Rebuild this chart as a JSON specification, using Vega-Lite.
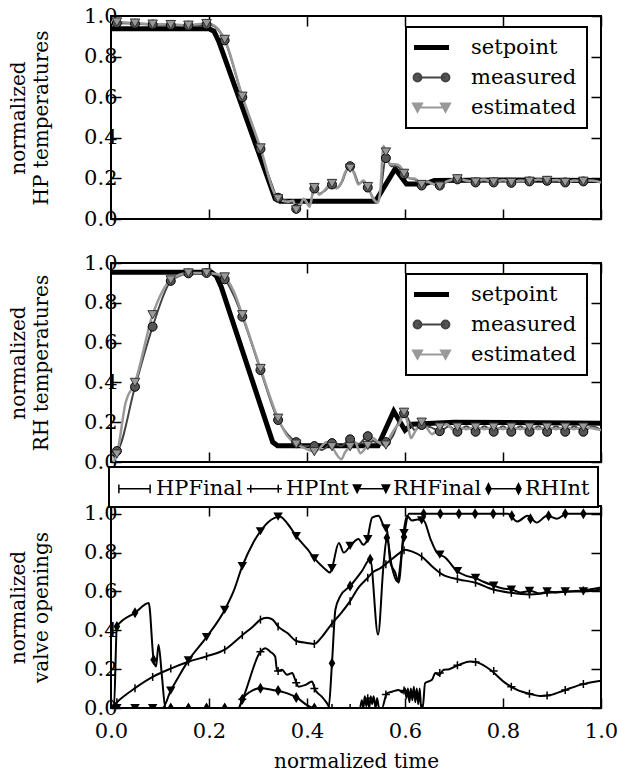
{
"$schema": "https://vega.github.io/schema/vega-lite/v6.json",
"padding": {"left": 7, "top": 4, "right": 5, "bottom": 0},
"bounds": "flush",
"spacing": 44,
"config": {
  "font": "DejaVu Serif",
  "view": {"stroke": "#000000", "strokeWidth": 2},
  "axis": {"domain": false, "grid": false, "tickColor": "#000000", "tickWidth": 1.5, "tickSize": -10, "labelFont": "DejaVu Serif", "labelFontSize": 21, "labelColor": "#000000", "labelFlush": false, "labelPadding": 4, "titleFont": "DejaVu Serif", "titleFontSize": 20, "titleFontWeight": "normal", "titleColor": "#000000", "titleLineHeight": 23},
  "legend": {"labelFont": "DejaVu Serif", "labelFontSize": 21, "labelColor": "#000000"}
},
"resolve": {"scale": {"color": "independent"}, "legend": {"color": "independent"}},
"datasets": {
  "hpL": [
    {"t":0,"v":0.937,"s":"setpoint"},{"t":0.2,"v":0.937,"s":"setpoint"},{"t":0.21,"v":0.925,"s":"setpoint"},{"t":0.22,"v":0.875,"s":"setpoint"},{"t":0.335,"v":0.1,"s":"setpoint"},{"t":0.345,"v":0.088,"s":"setpoint"},{"t":0.54,"v":0.088,"s":"setpoint"},{"t":0.58,"v":0.248,"s":"setpoint"},{"t":0.603,"v":0.172,"s":"setpoint"},{"t":0.64,"v":0.172,"s":"setpoint"},{"t":0.66,"v":0.19,"s":"setpoint"},{"t":0.8,"v":0.192,"s":"setpoint"},{"t":1.0,"v":0.19,"s":"setpoint"},
    {"t":0,"v":0.965,"s":"measured"},{"t":0.049,"v":0.962,"s":"measured"},{"t":0.085,"v":0.958,"s":"measured"},{"t":0.122,"v":0.955,"s":"measured"},{"t":0.158,"v":0.952,"s":"measured"},{"t":0.195,"v":0.958,"s":"measured"},{"t":0.205,"v":0.955,"s":"measured"},{"t":0.232,"v":0.88,"s":"measured"},{"t":0.268,"v":0.6,"s":"measured"},{"t":0.305,"v":0.345,"s":"measured"},{"t":0.335,"v":0.12,"s":"measured"},{"t":0.341,"v":0.105,"s":"measured"},{"t":0.36,"v":0.09,"s":"measured"},{"t":0.372,"v":0.085,"s":"measured"},{"t":0.378,"v":0.05,"s":"measured"},{"t":0.386,"v":0.065,"s":"measured"},{"t":0.393,"v":0.095,"s":"measured"},{"t":0.405,"v":0.065,"s":"measured"},{"t":0.415,"v":0.15,"s":"measured"},{"t":0.425,"v":0.125,"s":"measured"},{"t":0.437,"v":0.14,"s":"measured"},{"t":0.451,"v":0.17,"s":"measured"},{"t":0.462,"v":0.155,"s":"measured"},{"t":0.472,"v":0.185,"s":"measured"},{"t":0.48,"v":0.235,"s":"measured"},{"t":0.488,"v":0.26,"s":"measured"},{"t":0.497,"v":0.225,"s":"measured"},{"t":0.506,"v":0.175,"s":"measured"},{"t":0.515,"v":0.185,"s":"measured"},{"t":0.524,"v":0.155,"s":"measured"},{"t":0.535,"v":0.105,"s":"measured"},{"t":0.545,"v":0.085,"s":"measured"},{"t":0.551,"v":0.15,"s":"measured"},{"t":0.561,"v":0.3,"s":"measured"},{"t":0.572,"v":0.26,"s":"measured"},{"t":0.582,"v":0.26,"s":"measured"},{"t":0.59,"v":0.25,"s":"measured"},{"t":0.598,"v":0.22,"s":"measured"},{"t":0.61,"v":0.2,"s":"measured"},{"t":0.62,"v":0.195,"s":"measured"},{"t":0.634,"v":0.165,"s":"measured"},{"t":0.646,"v":0.18,"s":"measured"},{"t":0.658,"v":0.172,"s":"measured"},{"t":0.671,"v":0.165,"s":"measured"},{"t":0.688,"v":0.185,"s":"measured"},{"t":0.707,"v":0.195,"s":"measured"},{"t":0.726,"v":0.188,"s":"measured"},{"t":0.744,"v":0.18,"s":"measured"},{"t":0.762,"v":0.19,"s":"measured"},{"t":0.781,"v":0.18,"s":"measured"},{"t":0.8,"v":0.19,"s":"measured"},{"t":0.817,"v":0.178,"s":"measured"},{"t":0.836,"v":0.188,"s":"measured"},{"t":0.854,"v":0.185,"s":"measured"},{"t":0.872,"v":0.192,"s":"measured"},{"t":0.89,"v":0.188,"s":"measured"},{"t":0.908,"v":0.19,"s":"measured"},{"t":0.927,"v":0.18,"s":"measured"},{"t":0.946,"v":0.19,"s":"measured"},{"t":0.964,"v":0.185,"s":"measured"},{"t":0.982,"v":0.19,"s":"measured"},{"t":1.0,"v":0.18,"s":"measured"},
    {"t":0,"v":0.97,"s":"estimated"},{"t":0.012,"v":0.97,"s":"estimated"},{"t":0.049,"v":0.965,"s":"estimated"},{"t":0.085,"v":0.96,"s":"estimated"},{"t":0.122,"v":0.958,"s":"estimated"},{"t":0.158,"v":0.955,"s":"estimated"},{"t":0.195,"v":0.963,"s":"estimated"},{"t":0.205,"v":0.96,"s":"estimated"},{"t":0.232,"v":0.885,"s":"estimated"},{"t":0.268,"v":0.605,"s":"estimated"},{"t":0.305,"v":0.35,"s":"estimated"},{"t":0.335,"v":0.12,"s":"estimated"},{"t":0.341,"v":0.1,"s":"estimated"},{"t":0.36,"v":0.085,"s":"estimated"},{"t":0.372,"v":0.09,"s":"estimated"},{"t":0.378,"v":0.045,"s":"estimated"},{"t":0.385,"v":0.06,"s":"estimated"},{"t":0.393,"v":0.1,"s":"estimated"},{"t":0.4,"v":0.08,"s":"estimated"},{"t":0.405,"v":0.06,"s":"estimated"},{"t":0.415,"v":0.155,"s":"estimated"},{"t":0.425,"v":0.12,"s":"estimated"},{"t":0.435,"v":0.14,"s":"estimated"},{"t":0.451,"v":0.175,"s":"estimated"},{"t":0.46,"v":0.15,"s":"estimated"},{"t":0.47,"v":0.18,"s":"estimated"},{"t":0.48,"v":0.24,"s":"estimated"},{"t":0.488,"v":0.25,"s":"estimated"},{"t":0.495,"v":0.23,"s":"estimated"},{"t":0.505,"v":0.17,"s":"estimated"},{"t":0.515,"v":0.19,"s":"estimated"},{"t":0.524,"v":0.16,"s":"estimated"},{"t":0.535,"v":0.1,"s":"estimated"},{"t":0.545,"v":0.08,"s":"estimated"},{"t":0.55,"v":0.15,"s":"estimated"},{"t":0.556,"v":0.36,"s":"estimated"},{"t":0.561,"v":0.33,"s":"estimated"},{"t":0.57,"v":0.27,"s":"estimated"},{"t":0.58,"v":0.27,"s":"estimated"},{"t":0.59,"v":0.26,"s":"estimated"},{"t":0.598,"v":0.225,"s":"estimated"},{"t":0.61,"v":0.2,"s":"estimated"},{"t":0.62,"v":0.2,"s":"estimated"},{"t":0.634,"v":0.17,"s":"estimated"},{"t":0.645,"v":0.185,"s":"estimated"},{"t":0.655,"v":0.175,"s":"estimated"},{"t":0.671,"v":0.162,"s":"estimated"},{"t":0.685,"v":0.185,"s":"estimated"},{"t":0.707,"v":0.198,"s":"estimated"},{"t":0.725,"v":0.19,"s":"estimated"},{"t":0.744,"v":0.182,"s":"estimated"},{"t":0.76,"v":0.195,"s":"estimated"},{"t":0.781,"v":0.182,"s":"estimated"},{"t":0.8,"v":0.192,"s":"estimated"},{"t":0.817,"v":0.18,"s":"estimated"},{"t":0.835,"v":0.19,"s":"estimated"},{"t":0.854,"v":0.186,"s":"estimated"},{"t":0.872,"v":0.195,"s":"estimated"},{"t":0.89,"v":0.19,"s":"estimated"},{"t":0.91,"v":0.192,"s":"estimated"},{"t":0.927,"v":0.18,"s":"estimated"},{"t":0.945,"v":0.19,"s":"estimated"},{"t":0.964,"v":0.186,"s":"estimated"},{"t":0.98,"v":0.19,"s":"estimated"},{"t":1.0,"v":0.18,"s":"estimated"}
  ],
  "hpM": [
    {"t":0.012,"v":0.965,"s":"measured"},{"t":0.049,"v":0.962,"s":"measured"},{"t":0.085,"v":0.958,"s":"measured"},{"t":0.122,"v":0.955,"s":"measured"},{"t":0.158,"v":0.952,"s":"measured"},{"t":0.195,"v":0.958,"s":"measured"},{"t":0.232,"v":0.88,"s":"measured"},{"t":0.268,"v":0.6,"s":"measured"},{"t":0.305,"v":0.345,"s":"measured"},{"t":0.341,"v":0.105,"s":"measured"},{"t":0.378,"v":0.05,"s":"measured"},{"t":0.415,"v":0.15,"s":"measured"},{"t":0.451,"v":0.17,"s":"measured"},{"t":0.488,"v":0.26,"s":"measured"},{"t":0.524,"v":0.155,"s":"measured"},{"t":0.561,"v":0.3,"s":"measured"},{"t":0.598,"v":0.22,"s":"measured"},{"t":0.634,"v":0.165,"s":"measured"},{"t":0.671,"v":0.165,"s":"measured"},{"t":0.707,"v":0.195,"s":"measured"},{"t":0.744,"v":0.18,"s":"measured"},{"t":0.781,"v":0.18,"s":"measured"},{"t":0.817,"v":0.178,"s":"measured"},{"t":0.854,"v":0.185,"s":"measured"},{"t":0.89,"v":0.188,"s":"measured"},{"t":0.927,"v":0.18,"s":"measured"},{"t":0.964,"v":0.185,"s":"measured"},
    {"t":0.012,"v":0.97,"s":"estimated"},{"t":0.049,"v":0.965,"s":"estimated"},{"t":0.085,"v":0.96,"s":"estimated"},{"t":0.122,"v":0.958,"s":"estimated"},{"t":0.158,"v":0.955,"s":"estimated"},{"t":0.195,"v":0.963,"s":"estimated"},{"t":0.232,"v":0.885,"s":"estimated"},{"t":0.268,"v":0.605,"s":"estimated"},{"t":0.305,"v":0.35,"s":"estimated"},{"t":0.341,"v":0.1,"s":"estimated"},{"t":0.378,"v":0.045,"s":"estimated"},{"t":0.415,"v":0.155,"s":"estimated"},{"t":0.451,"v":0.175,"s":"estimated"},{"t":0.488,"v":0.25,"s":"estimated"},{"t":0.524,"v":0.16,"s":"estimated"},{"t":0.561,"v":0.33,"s":"estimated"},{"t":0.598,"v":0.225,"s":"estimated"},{"t":0.634,"v":0.17,"s":"estimated"},{"t":0.671,"v":0.162,"s":"estimated"},{"t":0.707,"v":0.198,"s":"estimated"},{"t":0.744,"v":0.182,"s":"estimated"},{"t":0.781,"v":0.182,"s":"estimated"},{"t":0.817,"v":0.18,"s":"estimated"},{"t":0.854,"v":0.186,"s":"estimated"},{"t":0.89,"v":0.19,"s":"estimated"},{"t":0.927,"v":0.18,"s":"estimated"},{"t":0.964,"v":0.186,"s":"estimated"}
  ],
  "rhL": [
    {"t":0,"v":0.953,"s":"setpoint"},{"t":0.205,"v":0.953,"s":"setpoint"},{"t":0.215,"v":0.935,"s":"setpoint"},{"t":0.225,"v":0.88,"s":"setpoint"},{"t":0.33,"v":0.1,"s":"setpoint"},{"t":0.34,"v":0.082,"s":"setpoint"},{"t":0.545,"v":0.082,"s":"setpoint"},{"t":0.577,"v":0.255,"s":"setpoint"},{"t":0.6,"v":0.16,"s":"setpoint"},{"t":0.615,"v":0.19,"s":"setpoint"},{"t":0.7,"v":0.2,"s":"setpoint"},{"t":1.0,"v":0.195,"s":"setpoint"},
    {"t":0.005,"v":0.05,"s":"measured"},{"t":0.012,"v":0.055,"s":"measured"},{"t":0.049,"v":0.378,"s":"measured"},{"t":0.085,"v":0.68,"s":"measured"},{"t":0.122,"v":0.91,"s":"measured"},{"t":0.14,"v":0.935,"s":"measured"},{"t":0.158,"v":0.948,"s":"measured"},{"t":0.195,"v":0.95,"s":"measured"},{"t":0.21,"v":0.945,"s":"measured"},{"t":0.232,"v":0.918,"s":"measured"},{"t":0.25,"v":0.84,"s":"measured"},{"t":0.268,"v":0.73,"s":"measured"},{"t":0.305,"v":0.462,"s":"measured"},{"t":0.341,"v":0.211,"s":"measured"},{"t":0.36,"v":0.14,"s":"measured"},{"t":0.378,"v":0.1,"s":"measured"},{"t":0.395,"v":0.08,"s":"measured"},{"t":0.415,"v":0.08,"s":"measured"},{"t":0.43,"v":0.06,"s":"measured"},{"t":0.451,"v":0.095,"s":"measured"},{"t":0.47,"v":0.08,"s":"measured"},{"t":0.488,"v":0.114,"s":"measured"},{"t":0.505,"v":0.09,"s":"measured"},{"t":0.524,"v":0.13,"s":"measured"},{"t":0.54,"v":0.1,"s":"measured"},{"t":0.561,"v":0.1,"s":"measured"},{"t":0.575,"v":0.13,"s":"measured"},{"t":0.585,"v":0.19,"s":"measured"},{"t":0.598,"v":0.245,"s":"measured"},{"t":0.61,"v":0.2,"s":"measured"},{"t":0.62,"v":0.16,"s":"measured"},{"t":0.634,"v":0.186,"s":"measured"},{"t":0.652,"v":0.175,"s":"measured"},{"t":0.671,"v":0.155,"s":"measured"},{"t":0.69,"v":0.18,"s":"measured"},{"t":0.707,"v":0.152,"s":"measured"},{"t":0.725,"v":0.18,"s":"measured"},{"t":0.744,"v":0.152,"s":"measured"},{"t":0.762,"v":0.18,"s":"measured"},{"t":0.781,"v":0.152,"s":"measured"},{"t":0.8,"v":0.18,"s":"measured"},{"t":0.817,"v":0.152,"s":"measured"},{"t":0.835,"v":0.18,"s":"measured"},{"t":0.854,"v":0.152,"s":"measured"},{"t":0.872,"v":0.18,"s":"measured"},{"t":0.89,"v":0.152,"s":"measured"},{"t":0.908,"v":0.18,"s":"measured"},{"t":0.927,"v":0.152,"s":"measured"},{"t":0.945,"v":0.18,"s":"measured"},{"t":0.964,"v":0.152,"s":"measured"},{"t":0.982,"v":0.18,"s":"measured"},{"t":1.0,"v":0.16,"s":"measured"},
    {"t":0.005,"v":0.0,"s":"estimated"},{"t":0.012,"v":0.04,"s":"estimated"},{"t":0.03,"v":0.3,"s":"estimated"},{"t":0.049,"v":0.4,"s":"estimated"},{"t":0.085,"v":0.74,"s":"estimated"},{"t":0.122,"v":0.915,"s":"estimated"},{"t":0.158,"v":0.95,"s":"estimated"},{"t":0.195,"v":0.95,"s":"estimated"},{"t":0.215,"v":0.945,"s":"estimated"},{"t":0.232,"v":0.93,"s":"estimated"},{"t":0.25,"v":0.86,"s":"estimated"},{"t":0.268,"v":0.74,"s":"estimated"},{"t":0.305,"v":0.47,"s":"estimated"},{"t":0.341,"v":0.22,"s":"estimated"},{"t":0.36,"v":0.13,"s":"estimated"},{"t":0.378,"v":0.09,"s":"estimated"},{"t":0.395,"v":0.07,"s":"estimated"},{"t":0.415,"v":0.052,"s":"estimated"},{"t":0.43,"v":0.08,"s":"estimated"},{"t":0.44,"v":0.1,"s":"estimated"},{"t":0.451,"v":0.077,"s":"estimated"},{"t":0.46,"v":0.04,"s":"estimated"},{"t":0.47,"v":0.014,"s":"estimated"},{"t":0.478,"v":0.05,"s":"estimated"},{"t":0.488,"v":0.077,"s":"estimated"},{"t":0.498,"v":0.1,"s":"estimated"},{"t":0.509,"v":0.044,"s":"estimated"},{"t":0.516,"v":0.06,"s":"estimated"},{"t":0.524,"v":0.083,"s":"estimated"},{"t":0.535,"v":0.12,"s":"estimated"},{"t":0.545,"v":0.1,"s":"estimated"},{"t":0.561,"v":0.085,"s":"estimated"},{"t":0.57,"v":0.13,"s":"estimated"},{"t":0.58,"v":0.17,"s":"estimated"},{"t":0.59,"v":0.2,"s":"estimated"},{"t":0.598,"v":0.25,"s":"estimated"},{"t":0.605,"v":0.2,"s":"estimated"},{"t":0.612,"v":0.12,"s":"estimated"},{"t":0.62,"v":0.15,"s":"estimated"},{"t":0.634,"v":0.2,"s":"estimated"},{"t":0.645,"v":0.17,"s":"estimated"},{"t":0.655,"v":0.14,"s":"estimated"},{"t":0.671,"v":0.175,"s":"estimated"},{"t":0.685,"v":0.19,"s":"estimated"},{"t":0.7,"v":0.16,"s":"estimated"},{"t":0.707,"v":0.175,"s":"estimated"},{"t":0.725,"v":0.165,"s":"estimated"},{"t":0.744,"v":0.175,"s":"estimated"},{"t":0.762,"v":0.165,"s":"estimated"},{"t":0.781,"v":0.175,"s":"estimated"},{"t":0.8,"v":0.165,"s":"estimated"},{"t":0.817,"v":0.175,"s":"estimated"},{"t":0.835,"v":0.165,"s":"estimated"},{"t":0.854,"v":0.175,"s":"estimated"},{"t":0.872,"v":0.165,"s":"estimated"},{"t":0.89,"v":0.175,"s":"estimated"},{"t":0.908,"v":0.165,"s":"estimated"},{"t":0.927,"v":0.175,"s":"estimated"},{"t":0.945,"v":0.165,"s":"estimated"},{"t":0.964,"v":0.175,"s":"estimated"},{"t":0.982,"v":0.17,"s":"estimated"},{"t":1.0,"v":0.16,"s":"estimated"}
  ],
  "rhM": [
    {"t":0.012,"v":0.055,"s":"measured"},{"t":0.049,"v":0.378,"s":"measured"},{"t":0.085,"v":0.68,"s":"measured"},{"t":0.122,"v":0.91,"s":"measured"},{"t":0.158,"v":0.948,"s":"measured"},{"t":0.195,"v":0.95,"s":"measured"},{"t":0.232,"v":0.918,"s":"measured"},{"t":0.268,"v":0.73,"s":"measured"},{"t":0.305,"v":0.462,"s":"measured"},{"t":0.341,"v":0.211,"s":"measured"},{"t":0.378,"v":0.1,"s":"measured"},{"t":0.415,"v":0.08,"s":"measured"},{"t":0.451,"v":0.095,"s":"measured"},{"t":0.488,"v":0.114,"s":"measured"},{"t":0.524,"v":0.13,"s":"measured"},{"t":0.561,"v":0.1,"s":"measured"},{"t":0.598,"v":0.245,"s":"measured"},{"t":0.634,"v":0.186,"s":"measured"},{"t":0.671,"v":0.155,"s":"measured"},{"t":0.707,"v":0.152,"s":"measured"},{"t":0.744,"v":0.152,"s":"measured"},{"t":0.781,"v":0.152,"s":"measured"},{"t":0.817,"v":0.152,"s":"measured"},{"t":0.854,"v":0.152,"s":"measured"},{"t":0.89,"v":0.152,"s":"measured"},{"t":0.927,"v":0.152,"s":"measured"},{"t":0.964,"v":0.152,"s":"measured"},
    {"t":0.012,"v":0.04,"s":"estimated"},{"t":0.049,"v":0.4,"s":"estimated"},{"t":0.085,"v":0.74,"s":"estimated"},{"t":0.122,"v":0.915,"s":"estimated"},{"t":0.158,"v":0.95,"s":"estimated"},{"t":0.195,"v":0.95,"s":"estimated"},{"t":0.232,"v":0.93,"s":"estimated"},{"t":0.268,"v":0.74,"s":"estimated"},{"t":0.305,"v":0.47,"s":"estimated"},{"t":0.341,"v":0.22,"s":"estimated"},{"t":0.378,"v":0.09,"s":"estimated"},{"t":0.415,"v":0.052,"s":"estimated"},{"t":0.451,"v":0.077,"s":"estimated"},{"t":0.488,"v":0.077,"s":"estimated"},{"t":0.524,"v":0.083,"s":"estimated"},{"t":0.561,"v":0.085,"s":"estimated"},{"t":0.598,"v":0.25,"s":"estimated"},{"t":0.634,"v":0.2,"s":"estimated"},{"t":0.671,"v":0.175,"s":"estimated"},{"t":0.707,"v":0.175,"s":"estimated"},{"t":0.744,"v":0.175,"s":"estimated"},{"t":0.781,"v":0.175,"s":"estimated"},{"t":0.817,"v":0.175,"s":"estimated"},{"t":0.854,"v":0.175,"s":"estimated"},{"t":0.89,"v":0.175,"s":"estimated"},{"t":0.927,"v":0.175,"s":"estimated"},{"t":0.964,"v":0.175,"s":"estimated"}
  ],
  "vL": [
    {"t":0,"v":0,"s":"HPFinal"},{"t":0.012,"v":0.03,"s":"HPFinal"},{"t":0.049,"v":0.102,"s":"HPFinal"},{"t":0.085,"v":0.16,"s":"HPFinal"},{"t":0.122,"v":0.203,"s":"HPFinal"},{"t":0.158,"v":0.238,"s":"HPFinal"},{"t":0.195,"v":0.266,"s":"HPFinal"},{"t":0.232,"v":0.3,"s":"HPFinal"},{"t":0.268,"v":0.375,"s":"HPFinal"},{"t":0.29,"v":0.42,"s":"HPFinal"},{"t":0.305,"v":0.455,"s":"HPFinal"},{"t":0.318,"v":0.465,"s":"HPFinal"},{"t":0.33,"v":0.455,"s":"HPFinal"},{"t":0.341,"v":0.42,"s":"HPFinal"},{"t":0.36,"v":0.386,"s":"HPFinal"},{"t":0.378,"v":0.345,"s":"HPFinal"},{"t":0.4,"v":0.335,"s":"HPFinal"},{"t":0.415,"v":0.33,"s":"HPFinal"},{"t":0.43,"v":0.365,"s":"HPFinal"},{"t":0.451,"v":0.435,"s":"HPFinal"},{"t":0.47,"v":0.49,"s":"HPFinal"},{"t":0.488,"v":0.55,"s":"HPFinal"},{"t":0.505,"v":0.62,"s":"HPFinal"},{"t":0.52,"v":0.66,"s":"HPFinal"},{"t":0.535,"v":0.7,"s":"HPFinal"},{"t":0.55,"v":0.72,"s":"HPFinal"},{"t":0.57,"v":0.76,"s":"HPFinal"},{"t":0.59,"v":0.8,"s":"HPFinal"},{"t":0.6,"v":0.815,"s":"HPFinal"},{"t":0.615,"v":0.805,"s":"HPFinal"},{"t":0.634,"v":0.78,"s":"HPFinal"},{"t":0.655,"v":0.73,"s":"HPFinal"},{"t":0.676,"v":0.688,"s":"HPFinal"},{"t":0.71,"v":0.662,"s":"HPFinal"},{"t":0.744,"v":0.645,"s":"HPFinal"},{"t":0.78,"v":0.61,"s":"HPFinal"},{"t":0.817,"v":0.593,"s":"HPFinal"},{"t":0.854,"v":0.585,"s":"HPFinal"},{"t":0.89,"v":0.593,"s":"HPFinal"},{"t":0.927,"v":0.6,"s":"HPFinal"},{"t":0.964,"v":0.605,"s":"HPFinal"},{"t":1.0,"v":0.62,"s":"HPFinal"},
    {"t":0,"v":0,"s":"HPInt"},{"t":0.26,"v":0,"s":"HPInt"},{"t":0.27,"v":0.055,"s":"HPInt"},{"t":0.305,"v":0.29,"s":"HPInt"},{"t":0.315,"v":0.308,"s":"HPInt"},{"t":0.325,"v":0.29,"s":"HPInt"},{"t":0.335,"v":0.265,"s":"HPInt"},{"t":0.339,"v":0.19,"s":"HPInt"},{"t":0.349,"v":0.197,"s":"HPInt"},{"t":0.359,"v":0.171,"s":"HPInt"},{"t":0.37,"v":0.18,"s":"HPInt"},{"t":0.376,"v":0.145,"s":"HPInt"},{"t":0.383,"v":0.11,"s":"HPInt"},{"t":0.397,"v":0.119,"s":"HPInt"},{"t":0.41,"v":0.136,"s":"HPInt"},{"t":0.417,"v":0.093,"s":"HPInt"},{"t":0.43,"v":0.059,"s":"HPInt"},{"t":0.441,"v":0.024,"s":"HPInt"},{"t":0.447,"v":0,"s":"HPInt"},{"t":0.508,"v":0,"s":"HPInt"},{"t":0.512,"v":0.04,"s":"HPInt"},{"t":0.515,"v":0,"s":"HPInt"},{"t":0.518,"v":0.06,"s":"HPInt"},{"t":0.521,"v":0.01,"s":"HPInt"},{"t":0.524,"v":0.05,"s":"HPInt"},{"t":0.527,"v":0,"s":"HPInt"},{"t":0.53,"v":0.06,"s":"HPInt"},{"t":0.533,"v":0.02,"s":"HPInt"},{"t":0.536,"v":0.06,"s":"HPInt"},{"t":0.54,"v":0,"s":"HPInt"},{"t":0.543,"v":0.05,"s":"HPInt"},{"t":0.547,"v":0,"s":"HPInt"},{"t":0.553,"v":0,"s":"HPInt"},{"t":0.563,"v":0.076,"s":"HPInt"},{"t":0.575,"v":0.085,"s":"HPInt"},{"t":0.587,"v":0.093,"s":"HPInt"},{"t":0.595,"v":0.08,"s":"HPInt"},{"t":0.6,"v":0.1,"s":"HPInt"},{"t":0.603,"v":0.05,"s":"HPInt"},{"t":0.606,"v":0.1,"s":"HPInt"},{"t":0.609,"v":0.03,"s":"HPInt"},{"t":0.612,"v":0.1,"s":"HPInt"},{"t":0.615,"v":0.04,"s":"HPInt"},{"t":0.618,"v":0.11,"s":"HPInt"},{"t":0.621,"v":0.03,"s":"HPInt"},{"t":0.624,"v":0.1,"s":"HPInt"},{"t":0.627,"v":0.02,"s":"HPInt"},{"t":0.63,"v":0.1,"s":"HPInt"},{"t":0.633,"v":0,"s":"HPInt"},{"t":0.636,"v":0,"s":"HPInt"},{"t":0.641,"v":0.128,"s":"HPInt"},{"t":0.655,"v":0.145,"s":"HPInt"},{"t":0.662,"v":0.18,"s":"HPInt"},{"t":0.669,"v":0.17,"s":"HPInt"},{"t":0.679,"v":0.197,"s":"HPInt"},{"t":0.69,"v":0.2,"s":"HPInt"},{"t":0.71,"v":0.222,"s":"HPInt"},{"t":0.733,"v":0.24,"s":"HPInt"},{"t":0.747,"v":0.235,"s":"HPInt"},{"t":0.774,"v":0.197,"s":"HPInt"},{"t":0.801,"v":0.136,"s":"HPInt"},{"t":0.829,"v":0.093,"s":"HPInt"},{"t":0.856,"v":0.072,"s":"HPInt"},{"t":0.876,"v":0.062,"s":"HPInt"},{"t":0.897,"v":0.067,"s":"HPInt"},{"t":0.924,"v":0.09,"s":"HPInt"},{"t":0.958,"v":0.119,"s":"HPInt"},{"t":1.0,"v":0.14,"s":"HPInt"},
    {"t":0,"v":0,"s":"RHFinal"},{"t":0.105,"v":0,"s":"RHFinal"},{"t":0.122,"v":0.09,"s":"RHFinal"},{"t":0.14,"v":0.17,"s":"RHFinal"},{"t":0.158,"v":0.245,"s":"RHFinal"},{"t":0.195,"v":0.365,"s":"RHFinal"},{"t":0.232,"v":0.505,"s":"RHFinal"},{"t":0.25,"v":0.6,"s":"RHFinal"},{"t":0.268,"v":0.73,"s":"RHFinal"},{"t":0.29,"v":0.85,"s":"RHFinal"},{"t":0.305,"v":0.91,"s":"RHFinal"},{"t":0.32,"v":0.955,"s":"RHFinal"},{"t":0.335,"v":0.98,"s":"RHFinal"},{"t":0.345,"v":0.985,"s":"RHFinal"},{"t":0.36,"v":0.95,"s":"RHFinal"},{"t":0.378,"v":0.885,"s":"RHFinal"},{"t":0.4,"v":0.82,"s":"RHFinal"},{"t":0.417,"v":0.765,"s":"RHFinal"},{"t":0.435,"v":0.72,"s":"RHFinal"},{"t":0.447,"v":0.697,"s":"RHFinal"},{"t":0.451,"v":0.72,"s":"RHFinal"},{"t":0.465,"v":0.85,"s":"RHFinal"},{"t":0.475,"v":0.8,"s":"RHFinal"},{"t":0.49,"v":0.84,"s":"RHFinal"},{"t":0.505,"v":0.87,"s":"RHFinal"},{"t":0.515,"v":0.84,"s":"RHFinal"},{"t":0.522,"v":0.86,"s":"RHFinal"},{"t":0.533,"v":0.98,"s":"RHFinal"},{"t":0.546,"v":0.99,"s":"RHFinal"},{"t":0.556,"v":0.94,"s":"RHFinal"},{"t":0.563,"v":0.92,"s":"RHFinal"},{"t":0.57,"v":0.75,"s":"RHFinal"},{"t":0.58,"v":0.697,"s":"RHFinal"},{"t":0.587,"v":0.645,"s":"RHFinal"},{"t":0.597,"v":0.9,"s":"RHFinal"},{"t":0.604,"v":0.99,"s":"RHFinal"},{"t":0.614,"v":0.965,"s":"RHFinal"},{"t":0.625,"v":0.97,"s":"RHFinal"},{"t":0.638,"v":0.965,"s":"RHFinal"},{"t":0.652,"v":0.87,"s":"RHFinal"},{"t":0.665,"v":0.8,"s":"RHFinal"},{"t":0.682,"v":0.775,"s":"RHFinal"},{"t":0.706,"v":0.705,"s":"RHFinal"},{"t":0.725,"v":0.68,"s":"RHFinal"},{"t":0.743,"v":0.67,"s":"RHFinal"},{"t":0.76,"v":0.65,"s":"RHFinal"},{"t":0.781,"v":0.63,"s":"RHFinal"},{"t":0.8,"v":0.615,"s":"RHFinal"},{"t":0.818,"v":0.61,"s":"RHFinal"},{"t":0.835,"v":0.595,"s":"RHFinal"},{"t":0.856,"v":0.603,"s":"RHFinal"},{"t":0.875,"v":0.59,"s":"RHFinal"},{"t":0.893,"v":0.6,"s":"RHFinal"},{"t":0.91,"v":0.595,"s":"RHFinal"},{"t":0.93,"v":0.6,"s":"RHFinal"},{"t":0.966,"v":0.6,"s":"RHFinal"},{"t":1.0,"v":0.61,"s":"RHFinal"},
    {"t":0,"v":0,"s":"RHInt"},{"t":0.006,"v":0,"s":"RHInt"},{"t":0.012,"v":0.42,"s":"RHInt"},{"t":0.049,"v":0.49,"s":"RHInt"},{"t":0.077,"v":0.54,"s":"RHInt"},{"t":0.087,"v":0.248,"s":"RHInt"},{"t":0.092,"v":0.214,"s":"RHInt"},{"t":0.097,"v":0.326,"s":"RHInt"},{"t":0.104,"v":0.162,"s":"RHInt"},{"t":0.111,"v":0,"s":"RHInt"},{"t":0.26,"v":0,"s":"RHInt"},{"t":0.268,"v":0.045,"s":"RHInt"},{"t":0.285,"v":0.085,"s":"RHInt"},{"t":0.305,"v":0.102,"s":"RHInt"},{"t":0.33,"v":0.093,"s":"RHInt"},{"t":0.36,"v":0.075,"s":"RHInt"},{"t":0.38,"v":0.052,"s":"RHInt"},{"t":0.4,"v":0.015,"s":"RHInt"},{"t":0.414,"v":0,"s":"RHInt"},{"t":0.444,"v":0,"s":"RHInt"},{"t":0.451,"v":0.231,"s":"RHInt"},{"t":0.458,"v":0.507,"s":"RHInt"},{"t":0.468,"v":0.576,"s":"RHInt"},{"t":0.488,"v":0.628,"s":"RHInt"},{"t":0.512,"v":0.705,"s":"RHInt"},{"t":0.529,"v":0.766,"s":"RHInt"},{"t":0.545,"v":0.378,"s":"RHInt"},{"t":0.556,"v":0.731,"s":"RHInt"},{"t":0.563,"v":0.877,"s":"RHInt"},{"t":0.573,"v":0.73,"s":"RHInt"},{"t":0.584,"v":0.653,"s":"RHInt"},{"t":0.597,"v":0.87,"s":"RHInt"},{"t":0.608,"v":1.0,"s":"RHInt"},{"t":0.81,"v":1.0,"s":"RHInt"},{"t":0.829,"v":0.96,"s":"RHInt"},{"t":0.85,"v":0.99,"s":"RHInt"},{"t":0.869,"v":0.955,"s":"RHInt"},{"t":0.89,"v":0.99,"s":"RHInt"},{"t":0.91,"v":0.975,"s":"RHInt"},{"t":0.93,"v":1.0,"s":"RHInt"},{"t":1.0,"v":1.0,"s":"RHInt"}
  ],
  "vM": [
    {"t":0.012,"v":0.03,"s":"HPFinal"},{"t":0.049,"v":0.102,"s":"HPFinal"},{"t":0.085,"v":0.16,"s":"HPFinal"},{"t":0.122,"v":0.203,"s":"HPFinal"},{"t":0.158,"v":0.238,"s":"HPFinal"},{"t":0.195,"v":0.266,"s":"HPFinal"},{"t":0.232,"v":0.3,"s":"HPFinal"},{"t":0.268,"v":0.375,"s":"HPFinal"},{"t":0.305,"v":0.455,"s":"HPFinal"},{"t":0.341,"v":0.42,"s":"HPFinal"},{"t":0.378,"v":0.345,"s":"HPFinal"},{"t":0.415,"v":0.33,"s":"HPFinal"},{"t":0.451,"v":0.435,"s":"HPFinal"},{"t":0.488,"v":0.55,"s":"HPFinal"},{"t":0.524,"v":0.67,"s":"HPFinal"},{"t":0.561,"v":0.74,"s":"HPFinal"},{"t":0.598,"v":0.812,"s":"HPFinal"},{"t":0.634,"v":0.78,"s":"HPFinal"},{"t":0.671,"v":0.698,"s":"HPFinal"},{"t":0.707,"v":0.664,"s":"HPFinal"},{"t":0.744,"v":0.645,"s":"HPFinal"},{"t":0.781,"v":0.61,"s":"HPFinal"},{"t":0.817,"v":0.593,"s":"HPFinal"},{"t":0.854,"v":0.585,"s":"HPFinal"},{"t":0.89,"v":0.593,"s":"HPFinal"},{"t":0.927,"v":0.6,"s":"HPFinal"},{"t":0.964,"v":0.605,"s":"HPFinal"},
    {"t":0.012,"v":0,"s":"HPInt"},{"t":0.049,"v":0,"s":"HPInt"},{"t":0.085,"v":0,"s":"HPInt"},{"t":0.122,"v":0,"s":"HPInt"},{"t":0.158,"v":0,"s":"HPInt"},{"t":0.195,"v":0,"s":"HPInt"},{"t":0.232,"v":0,"s":"HPInt"},{"t":0.268,"v":0.045,"s":"HPInt"},{"t":0.305,"v":0.29,"s":"HPInt"},{"t":0.341,"v":0.19,"s":"HPInt"},{"t":0.378,"v":0.13,"s":"HPInt"},{"t":0.415,"v":0.1,"s":"HPInt"},{"t":0.451,"v":0,"s":"HPInt"},{"t":0.488,"v":0,"s":"HPInt"},{"t":0.524,"v":0.05,"s":"HPInt"},{"t":0.561,"v":0.07,"s":"HPInt"},{"t":0.598,"v":0.09,"s":"HPInt"},{"t":0.634,"v":0,"s":"HPInt"},{"t":0.671,"v":0.18,"s":"HPInt"},{"t":0.707,"v":0.22,"s":"HPInt"},{"t":0.744,"v":0.237,"s":"HPInt"},{"t":0.781,"v":0.19,"s":"HPInt"},{"t":0.817,"v":0.11,"s":"HPInt"},{"t":0.854,"v":0.073,"s":"HPInt"},{"t":0.89,"v":0.065,"s":"HPInt"},{"t":0.927,"v":0.093,"s":"HPInt"},{"t":0.964,"v":0.123,"s":"HPInt"},
    {"t":0.012,"v":0,"s":"RHFinal"},{"t":0.049,"v":0,"s":"RHFinal"},{"t":0.085,"v":0,"s":"RHFinal"},{"t":0.122,"v":0.09,"s":"RHFinal"},{"t":0.158,"v":0.245,"s":"RHFinal"},{"t":0.195,"v":0.365,"s":"RHFinal"},{"t":0.232,"v":0.505,"s":"RHFinal"},{"t":0.268,"v":0.73,"s":"RHFinal"},{"t":0.305,"v":0.91,"s":"RHFinal"},{"t":0.341,"v":0.985,"s":"RHFinal"},{"t":0.378,"v":0.885,"s":"RHFinal"},{"t":0.415,"v":0.77,"s":"RHFinal"},{"t":0.451,"v":0.72,"s":"RHFinal"},{"t":0.488,"v":0.835,"s":"RHFinal"},{"t":0.524,"v":0.87,"s":"RHFinal"},{"t":0.561,"v":0.925,"s":"RHFinal"},{"t":0.598,"v":0.9,"s":"RHFinal"},{"t":0.634,"v":0.966,"s":"RHFinal"},{"t":0.671,"v":0.79,"s":"RHFinal"},{"t":0.707,"v":0.705,"s":"RHFinal"},{"t":0.744,"v":0.67,"s":"RHFinal"},{"t":0.781,"v":0.63,"s":"RHFinal"},{"t":0.817,"v":0.61,"s":"RHFinal"},{"t":0.854,"v":0.603,"s":"RHFinal"},{"t":0.89,"v":0.6,"s":"RHFinal"},{"t":0.927,"v":0.6,"s":"RHFinal"},{"t":0.964,"v":0.6,"s":"RHFinal"},
    {"t":0.012,"v":0.42,"s":"RHInt"},{"t":0.049,"v":0.49,"s":"RHInt"},{"t":0.087,"v":0.248,"s":"RHInt"},{"t":0.122,"v":0,"s":"RHInt"},{"t":0.158,"v":0,"s":"RHInt"},{"t":0.195,"v":0,"s":"RHInt"},{"t":0.232,"v":0,"s":"RHInt"},{"t":0.268,"v":0.045,"s":"RHInt"},{"t":0.305,"v":0.102,"s":"RHInt"},{"t":0.341,"v":0.09,"s":"RHInt"},{"t":0.378,"v":0.054,"s":"RHInt"},{"t":0.415,"v":0,"s":"RHInt"},{"t":0.451,"v":0.231,"s":"RHInt"},{"t":0.488,"v":0.628,"s":"RHInt"},{"t":0.529,"v":0.766,"s":"RHInt"},{"t":0.563,"v":0.877,"s":"RHInt"},{"t":0.598,"v":0.88,"s":"RHInt"},{"t":0.638,"v":1.0,"s":"RHInt"},{"t":0.672,"v":1.0,"s":"RHInt"},{"t":0.71,"v":1.0,"s":"RHInt"},{"t":0.743,"v":1.0,"s":"RHInt"},{"t":0.78,"v":1.0,"s":"RHInt"},{"t":0.818,"v":0.99,"s":"RHInt"},{"t":0.856,"v":0.975,"s":"RHInt"},{"t":0.893,"v":0.99,"s":"RHInt"},{"t":0.927,"v":1.0,"s":"RHInt"},{"t":0.964,"v":1.0,"s":"RHInt"}
  ]
},
"vconcat": [
  {
    "width": 490, "height": 203,
    "resolve": {"axis": {"x": "independent", "y": "independent"}},
    "layer": [
      {"data": {"name": "hpL"}, "transform": [{"filter": "datum.s === 'setpoint'"}],
       "mark": {"type": "line", "strokeWidth": 5, "clip": true},
       "encoding": {
         "x": {"field": "t", "type": "quantitative", "scale": {"domain": [0, 1], "nice": false}, "axis": {"orient": "bottom", "values": [0, 0.2, 0.4, 0.6, 0.8, 1], "labels": false, "title": null}},
         "y": {"field": "v", "type": "quantitative", "scale": {"domain": [0, 1], "nice": false}, "axis": {"orient": "left", "values": [0, 0.2, 0.4, 0.6, 0.8, 1], "format": ".1f", "title": ["normalized", "HP temperatures"], "titlePadding": 32}},
         "color": {"field": "s", "type": "nominal", "scale": {"domain": ["setpoint", "measured", "estimated"], "range": ["#000000", "#444444", "#999999"]},
           "legend": {"title": null, "orient": "none", "legendX": 295, "legendY": 11, "direction": "vertical", "padding": 10, "strokeColor": "#000000", "fillColor": "#ffffff", "symbolSize": 784, "labelOffset": 29, "rowPadding": 8, "symbolOffset": 5,
             "encode": {"legend": {"update": {"strokeWidth": {"value": 2}}},
               "symbols": {"update": {
                 "shape": {"signal": "datum.value === 'setpoint' ? 'M-1.25,0H1.25' : datum.value === 'measured' ? 'M-1,0H1M-0.72,0A0.28,0.28,0,1,1,-1.28,0A0.28,0.28,0,1,1,-0.72,0ZM1.28,0A0.28,0.28,0,1,1,0.72,0A0.28,0.28,0,1,1,1.28,0Z' : 'M-1,0H1M-1.32,-0.28H-0.68L-1,0.3ZM0.68,-0.28H1.32L1,0.3Z'"},
                 "stroke": {"signal": "datum.value === 'setpoint' ? '#000000' : datum.value === 'measured' ? '#333333' : '#777777'"},
                 "fill": {"signal": "datum.value === 'measured' ? '#555555' : '#999999'"},
                 "strokeWidth": {"signal": "datum.value === 'setpoint' ? 5 : 2"},
                 "opacity": {"value": 1}
               }}}}}
       }},
      {"data": {"name": "hpL"}, "transform": [{"filter": "datum.s === 'measured'"}],
       "mark": {"type": "line", "strokeWidth": 2, "clip": true, "interpolate": "monotone"},
       "encoding": {
         "x": {"field": "t", "type": "quantitative", "axis": null},
         "y": {"field": "v", "type": "quantitative", "axis": null},
         "color": {"field": "s", "type": "nominal", "legend": null}
       }},
      {"data": {"name": "hpL"}, "transform": [{"filter": "datum.s === 'estimated'"}],
       "mark": {"type": "line", "strokeWidth": 2.5, "clip": true, "interpolate": "monotone"},
       "encoding": {
         "x": {"field": "t", "type": "quantitative", "axis": null},
         "y": {"field": "v", "type": "quantitative", "axis": null},
         "color": {"field": "s", "type": "nominal", "legend": null}
       }},
      {"data": {"name": "hpM"}, "transform": [{"filter": "datum.s === 'measured'"}],
       "mark": {"type": "point", "shape": "circle", "filled": true, "fill": "#555555", "stroke": "#000000", "strokeWidth": 1, "size": 80, "opacity": 1, "clip": true},
       "encoding": {
         "x": {"field": "t", "type": "quantitative", "axis": null},
         "y": {"field": "v", "type": "quantitative", "axis": null}
       }},
      {"data": {"name": "hpM"}, "transform": [{"filter": "datum.s === 'estimated'"}],
       "mark": {"type": "point", "shape": "triangle-down", "filled": true, "fill": "#999999", "stroke": "#333333", "strokeWidth": 1, "size": 90, "opacity": 1, "clip": true},
       "encoding": {
         "x": {"field": "t", "type": "quantitative", "axis": {"orient": "top", "values": [0, 0.2, 0.4, 0.6, 0.8, 1], "labels": false, "title": null}},
         "y": {"field": "v", "type": "quantitative", "axis": {"orient": "right", "values": [0, 0.2, 0.4, 0.6, 0.8, 1], "labels": false, "title": null}}
       }}
    ]
  },
  {
    "width": 490, "height": 199,
    "resolve": {"axis": {"x": "independent", "y": "independent"}},
    "layer": [
      {"data": {"name": "rhL"}, "transform": [{"filter": "datum.s === 'setpoint'"}],
       "mark": {"type": "line", "strokeWidth": 5, "clip": true},
       "encoding": {
         "x": {"field": "t", "type": "quantitative", "scale": {"domain": [0, 1], "nice": false}, "axis": {"orient": "bottom", "values": [0, 0.2, 0.4, 0.6, 0.8, 1], "labels": false, "title": null}},
         "y": {"field": "v", "type": "quantitative", "scale": {"domain": [0, 1], "nice": false}, "axis": {"orient": "left", "values": [0, 0.2, 0.4, 0.6, 0.8, 1], "format": ".1f", "title": ["normalized", "RH temperatures"], "titlePadding": 32}},
         "color": {"field": "s", "type": "nominal", "scale": {"domain": ["setpoint", "measured", "estimated"], "range": ["#000000", "#444444", "#999999"]},
           "legend": {"title": null, "orient": "none", "legendX": 295, "legendY": 11, "direction": "vertical", "padding": 10, "strokeColor": "#000000", "fillColor": "#ffffff", "symbolSize": 784, "labelOffset": 29, "rowPadding": 8, "symbolOffset": 5,
             "encode": {"legend": {"update": {"strokeWidth": {"value": 2}}},
               "symbols": {"update": {
                 "shape": {"signal": "datum.value === 'setpoint' ? 'M-1.25,0H1.25' : datum.value === 'measured' ? 'M-1,0H1M-0.72,0A0.28,0.28,0,1,1,-1.28,0A0.28,0.28,0,1,1,-0.72,0ZM1.28,0A0.28,0.28,0,1,1,0.72,0A0.28,0.28,0,1,1,1.28,0Z' : 'M-1,0H1M-1.32,-0.28H-0.68L-1,0.3ZM0.68,-0.28H1.32L1,0.3Z'"},
                 "stroke": {"signal": "datum.value === 'setpoint' ? '#000000' : datum.value === 'measured' ? '#333333' : '#777777'"},
                 "fill": {"signal": "datum.value === 'measured' ? '#555555' : '#999999'"},
                 "strokeWidth": {"signal": "datum.value === 'setpoint' ? 5 : 2"},
                 "opacity": {"value": 1}
               }}}}}
       }},
      {"data": {"name": "rhL"}, "transform": [{"filter": "datum.s === 'measured'"}],
       "mark": {"type": "line", "strokeWidth": 2, "clip": true, "interpolate": "monotone"},
       "encoding": {
         "x": {"field": "t", "type": "quantitative", "axis": null},
         "y": {"field": "v", "type": "quantitative", "axis": null},
         "color": {"field": "s", "type": "nominal", "legend": null}
       }},
      {"data": {"name": "rhL"}, "transform": [{"filter": "datum.s === 'estimated'"}],
       "mark": {"type": "line", "strokeWidth": 2.5, "clip": true, "interpolate": "monotone"},
       "encoding": {
         "x": {"field": "t", "type": "quantitative", "axis": null},
         "y": {"field": "v", "type": "quantitative", "axis": null},
         "color": {"field": "s", "type": "nominal", "legend": null}
       }},
      {"data": {"name": "rhM"}, "transform": [{"filter": "datum.s === 'measured'"}],
       "mark": {"type": "point", "shape": "circle", "filled": true, "fill": "#555555", "stroke": "#000000", "strokeWidth": 1, "size": 80, "opacity": 1, "clip": true},
       "encoding": {
         "x": {"field": "t", "type": "quantitative", "axis": null},
         "y": {"field": "v", "type": "quantitative", "axis": null}
       }},
      {"data": {"name": "rhM"}, "transform": [{"filter": "datum.s === 'estimated'"}],
       "mark": {"type": "point", "shape": "triangle-down", "filled": true, "fill": "#999999", "stroke": "#333333", "strokeWidth": 1, "size": 90, "opacity": 1, "clip": true},
       "encoding": {
         "x": {"field": "t", "type": "quantitative", "axis": {"orient": "top", "values": [0, 0.2, 0.4, 0.6, 0.8, 1], "labels": false, "title": null}},
         "y": {"field": "v", "type": "quantitative", "axis": {"orient": "right", "values": [0, 0.2, 0.4, 0.6, 0.8, 1], "labels": false, "title": null}}
       }}
    ]
  },
  {
    "width": 490, "height": 202,
    "resolve": {"axis": {"x": "independent", "y": "independent"}},
    "layer": [
      {"data": {"name": "vL"}, "transform": [{"filter": "datum.s === 'HPFinal'"}],
       "mark": {"type": "line", "strokeWidth": 2, "clip": true, "interpolate": "monotone"},
       "encoding": {
         "x": {"field": "t", "type": "quantitative", "scale": {"domain": [0, 1], "nice": false}, "axis": {"orient": "bottom", "values": [0, 0.2, 0.4, 0.6, 0.8, 1], "format": ".1f", "labelPadding": 22, "title": "normalized time", "titlePadding": 10}},
         "y": {"field": "v", "type": "quantitative", "scale": {"domain": [0, 1.04], "nice": false}, "axis": {"orient": "left", "values": [0, 0.2, 0.4, 0.6, 0.8, 1], "format": ".1f", "title": ["normalized", "valve openings"], "titlePadding": 32}},
         "color": {"field": "s", "type": "nominal", "scale": {"domain": ["HPFinal", "HPInt", "RHFinal", "RHInt"], "range": ["#000000", "#000000", "#000000", "#000000"]},
           "legend": {"title": null, "orient": "none", "legendX": -2, "legendY": -39, "direction": "horizontal", "columns": 4, "padding": 8, "strokeColor": "#000000", "fillColor": "#ffffff", "symbolSize": 625, "labelOffset": 8, "columnPadding": 1, "symbolOffset": 4,
             "encode": {"legend": {"update": {"strokeWidth": {"value": 2}}},
               "symbols": {"update": {
                 "shape": {"signal": "datum.value === 'HPFinal' ? 'M-1.25,0H1.25M-1.25,-0.35V0.35M1.25,-0.35V0.35' : datum.value === 'HPInt' ? 'M-1.4,0H1.4M-1.1,-0.32V0.32M1.1,-0.32V0.32' : datum.value === 'RHFinal' ? 'M-1.1,0H1.1M-1.45,-0.3H-0.85L-1.15,0.3ZM0.85,-0.3H1.45L1.15,0.3Z' : 'M-1.1,0H1.1M-1.2,-0.4L-1,0L-1.2,0.4L-1.4,0ZM1.2,-0.4L1.4,0L1.2,0.4L1,0Z'"},
                 "stroke": {"value": "#000000"},
                 "fill": {"value": "#000000"},
                 "strokeWidth": {"value": 1.5},
                 "opacity": {"value": 1}
               }}}}}
       }},
      {"data": {"name": "vM"}, "transform": [{"filter": "datum.s === 'HPFinal'"}],
       "mark": {"type": "point", "shape": "M0,-1V1", "filled": false, "stroke": "#000000", "strokeWidth": 1.5, "size": 64, "opacity": 1, "clip": true},
       "encoding": {
         "x": {"field": "t", "type": "quantitative", "axis": null},
         "y": {"field": "v", "type": "quantitative", "axis": null}
       }},
      {"data": {"name": "vL"}, "transform": [{"filter": "datum.s === 'HPInt'"}],
       "mark": {"type": "line", "strokeWidth": 2, "clip": true, "interpolate": "monotone"},
       "encoding": {
         "x": {"field": "t", "type": "quantitative", "axis": null},
         "y": {"field": "v", "type": "quantitative", "axis": null},
         "color": {"field": "s", "type": "nominal", "legend": null}
       }},
      {"data": {"name": "vM"}, "transform": [{"filter": "datum.s === 'HPInt'"}],
       "mark": {"type": "point", "shape": "M-1,0H1M0,-1V1", "filled": false, "stroke": "#000000", "strokeWidth": 1.5, "size": 64, "opacity": 1, "clip": true},
       "encoding": {
         "x": {"field": "t", "type": "quantitative", "axis": null},
         "y": {"field": "v", "type": "quantitative", "axis": null}
       }},
      {"data": {"name": "vL"}, "transform": [{"filter": "datum.s === 'RHFinal'"}],
       "mark": {"type": "line", "strokeWidth": 2, "clip": true, "interpolate": "monotone"},
       "encoding": {
         "x": {"field": "t", "type": "quantitative", "axis": null},
         "y": {"field": "v", "type": "quantitative", "axis": null},
         "color": {"field": "s", "type": "nominal", "legend": null}
       }},
      {"data": {"name": "vM"}, "transform": [{"filter": "datum.s === 'RHFinal'"}],
       "mark": {"type": "point", "shape": "triangle-down", "filled": true, "fill": "#000000", "size": 90, "opacity": 1, "clip": true},
       "encoding": {
         "x": {"field": "t", "type": "quantitative", "axis": null},
         "y": {"field": "v", "type": "quantitative", "axis": null}
       }},
      {"data": {"name": "vL"}, "transform": [{"filter": "datum.s === 'RHInt'"}],
       "mark": {"type": "line", "strokeWidth": 2, "clip": true, "interpolate": "monotone"},
       "encoding": {
         "x": {"field": "t", "type": "quantitative", "axis": null},
         "y": {"field": "v", "type": "quantitative", "axis": null},
         "color": {"field": "s", "type": "nominal", "legend": null}
       }},
      {"data": {"name": "vM"}, "transform": [{"filter": "datum.s === 'RHInt'"}],
       "mark": {"type": "point", "shape": "M0,-1L0.6,0L0,1L-0.6,0Z", "filled": true, "fill": "#000000", "size": 121, "opacity": 1, "clip": true},
       "encoding": {
         "x": {"field": "t", "type": "quantitative", "axis": {"orient": "top", "values": [0, 0.2, 0.4, 0.6, 0.8, 1], "labels": false, "title": null}},
         "y": {"field": "v", "type": "quantitative", "axis": {"orient": "right", "values": [0, 0.2, 0.4, 0.6, 0.8, 1], "labels": false, "title": null}}
       }}
    ]
  }
]
}
